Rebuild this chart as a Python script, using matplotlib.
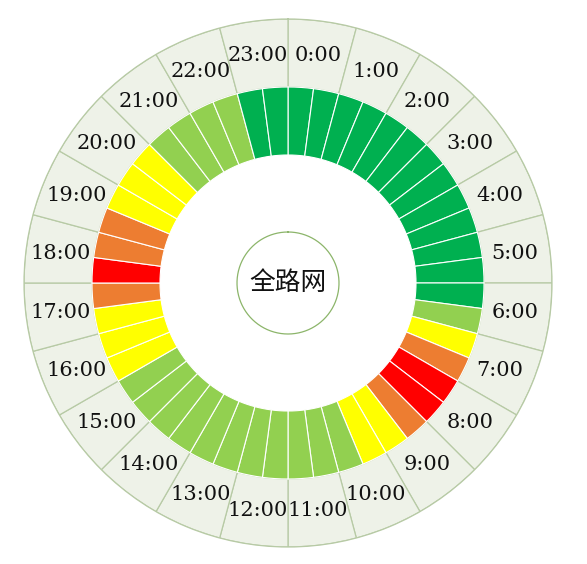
import numpy as np
import matplotlib
matplotlib.use("Agg")
import matplotlib.pyplot as plt

# ---- data ----
hour_labels = [f"{h}:00" for h in range(24)]
# congestion level per half hour, starting at 0:00 (1=smooth ... 5=severe)
levels = [1, 1, 1, 1, 1, 1, 1, 1, 1, 1, 1, 1, 1,   # 0:00 - 6:00
          2, 3, 4, 5, 5, 4, 3, 3,                  # 6:30 - 10:00
          2, 2, 2, 2, 2, 2, 2, 2, 2, 2, 2,         # 10:30 - 15:30
          3, 3, 3, 4, 5, 4, 4, 3, 3, 3,            # 16:00 - 20:30
          2, 2, 2, 2, 1, 1]                        # 21:00 - 23:30
level_colors = {1: "#00B050", 2: "#92D050", 3: "#FFFF00", 4: "#ED7D31", 5: "#FF0000"}
center_label = "全路网"

# ---- figure ----
W, H = 587, 564
DPI = 100
fig = plt.figure(figsize=(W / DPI, H / DPI), dpi=DPI)
cx, cy = 288, H - 283
R = 264
ax = fig.add_axes([(cx - R) / W, (cy - R) / H, 2 * R / W, 2 * R / H], projection="polar")
ax.set_theta_zero_location("N")
ax.set_theta_direction(-1)
ax.set_ylim(0, R)

r_in, r_ring, r_out = 128, 196, R

# outer hour band
n_h = len(hour_labels)
th_h = np.arange(n_h) * 2 * np.pi / n_h
ax.bar(th_h, r_out - r_ring, width=2 * np.pi / n_h, bottom=r_ring, align="edge",
       color="#eef2e8", edgecolor="#b7caa5", linewidth=0.9, zorder=1)
for t, lab in zip(th_h, hour_labels):
    ax.text(t + np.pi / n_h, 229, lab, ha="center", va="center",
            fontsize=15, family="DejaVu Serif", color="#111111", zorder=5)

# congestion ring
n = len(levels)
th = np.arange(n) * 2 * np.pi / n
ax.bar(th, r_ring - r_in, width=2 * np.pi / n, bottom=r_in, align="edge",
       color=[level_colors[v] for v in levels], edgecolor="white", linewidth=0.8, zorder=2)

# center circle and label
tt = np.linspace(0, 2 * np.pi, 361)
ax.plot(tt, np.full_like(tt, 51), color="#8cb56a", linewidth=0.9, zorder=3)
ax.text(0, 0, center_label, ha="center", va="center", fontsize=18.5,
        family=["Noto Sans CJK SC", "DejaVu Sans"], color="#111111", zorder=5)

ax.grid(False)
ax.set_xticks([])
ax.set_yticks([])
ax.spines["polar"].set_color("#b7caa5")
ax.spines["polar"].set_linewidth(0.9)
ax.set_facecolor("white")

fig.savefig("out.png", dpi=DPI)
